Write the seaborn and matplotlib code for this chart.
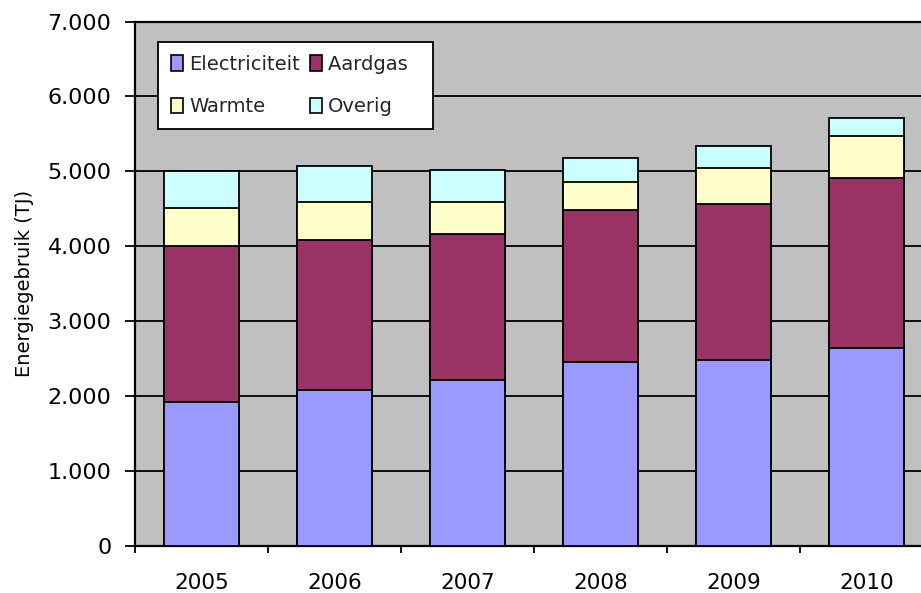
import matplotlib
matplotlib.use("Agg")
import matplotlib.pyplot as plt
from matplotlib.patches import Patch
from matplotlib.ticker import FuncFormatter, FixedLocator
import numpy as np
import pandas as pd
import seaborn as sns

# Energy use per carrier (TJ)
years = ["2005", "2006", "2007", "2008", "2009", "2010"]
electriciteit = [1920, 2080, 2210, 2450, 2475, 2640]
aardgas = [2080, 2000, 1950, 2030, 2085, 2270]
warmte = [510, 510, 430, 375, 485, 560]
overig = [490, 485, 430, 325, 295, 245]

series_names = ["Electriciteit", "Aardgas", "Warmte", "Overig"]
series_colors = ["#9999FF", "#993366", "#FFFFCC", "#CCFFFF"]

sns.set_theme(style="white")
plt.rcParams["font.family"] = ["DejaVu Sans"]

fig = plt.figure(figsize=(9.21, 5.93), dpi=100)
ax = fig.add_axes([135 / 921, 47.3 / 593, 798 / 921, 524.2 / 593])
ax.set_facecolor("#C0C0C0")

# Stacked bars: draw cumulative totals from the top layer down
layers = np.array([electriciteit, aardgas, warmte, overig], dtype=float)
cum = np.cumsum(layers, axis=0)
for i in range(len(series_names) - 1, -1, -1):
    df = pd.DataFrame({"jaar": years, "waarde": cum[i]})
    sns.barplot(data=df, x="jaar", y="waarde", color=series_colors[i],
                saturation=1, width=0.57, edgecolor="black", linewidth=1.3,
                ax=ax, zorder=3)

ax.set_xlim(-0.5, 5.5)
ax.set_ylim(0, 7000)

# Gridlines
ax.yaxis.set_major_locator(FixedLocator(np.arange(0, 7001, 1000)))
ax.yaxis.grid(True, color="black", linewidth=1.3, zorder=0)
ax.set_axisbelow(True)
ax.yaxis.set_major_formatter(FuncFormatter(lambda v, p: f"{int(v):,}".replace(",", ".")))

# Ticks between categories on x, labels centred on bars
ax.xaxis.set_major_locator(FixedLocator(np.arange(-0.5, 6.0, 1.0)))
ax.xaxis.set_major_formatter(FuncFormatter(lambda v, p: ""))
ax.set_xticks(np.arange(0, 6), labels=years, minor=True)
ax.tick_params(axis="x", which="major", direction="out", length=5, width=1.3,
               color="black", bottom=True)
ax.tick_params(axis="x", which="minor", length=0, pad=20, labelsize=15.5,
               labelcolor="black")
ax.tick_params(axis="y", which="major", direction="out", length=7, width=1.3,
               color="black", left=True, labelsize=16, labelcolor="black", pad=10)

for side in ["left", "bottom", "top"]:
    ax.spines[side].set_visible(True)
    ax.spines[side].set_color("black")
    ax.spines[side].set_linewidth(1.6)
ax.spines["right"].set_visible(False)

ax.set_xlabel("")
ax.set_ylabel("Energiegebruik (TJ)", fontsize=14, color="black", labelpad=10)

# Legend rows: Electriciteit/Aardgas, Warmte/Overig (matplotlib fills by column);
# trailing spaces leave some room at the right of the box
legend_labels = {0: "Electriciteit", 1: "Aardgas  ", 2: "Warmte", 3: "Overig"}
handle_order = [0, 2, 1, 3]
handles = [Patch(facecolor=series_colors[k], edgecolor="black", linewidth=1.2,
                 label=legend_labels[k]) for k in handle_order]
leg = ax.legend(handles=handles, ncol=2, loc="upper left",
                bbox_to_anchor=(0.029, 0.961), borderaxespad=0,
                fontsize=14, frameon=True, fancybox=False,
                handlelength=0.65, handleheight=0.85, handletextpad=0.3,
                columnspacing=0.5, labelspacing=1.22, borderpad=0.65)
leg.get_frame().set_edgecolor("black")
leg.get_frame().set_linewidth(1.3)
leg.get_frame().set_facecolor("white")
leg.get_frame().set_alpha(1)
leg.set_zorder(5)

fig.savefig("out.png", dpi=100)
